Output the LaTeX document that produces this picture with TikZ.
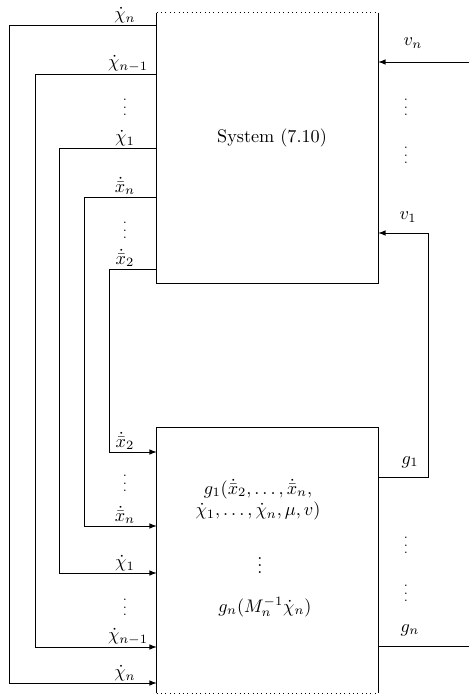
\documentclass[tikz,border=0pt]{standalone}
\usepackage{amsmath}
\begin{document}
\begin{tikzpicture}[x=0.55pt,y=-0.55pt,
    box/.style={rectangle,inner sep=0pt},
    lbl/.style={anchor=south,inner sep=1pt},
    vd/.style={inner sep=0pt,font=\scriptsize}]
    \useasboundingbox (0,0) rectangle (469,699);
    % the two blocks
    \node[box,minimum width=121.5pt,minimum height=148.5pt] (sys) at (267.5,148) {};
    \node[box,minimum width=121.5pt,minimum height=145.8pt] (ctl) at (267.5,560.5) {};
    \draw (sys.north east) -- (sys.south east) -- (sys.south west) -- (sys.north west);
    \draw[dotted] (sys.north west) -- (sys.north east);
    \draw (ctl.south west) -- (ctl.north west) -- (ctl.north east) -- (ctl.south east);
    \draw[dotted] (ctl.south west) -- (ctl.south east);
    \node (systxt) at (272,138) {System (7.10)};
    \node[align=center] (g1txt) at (258,500) {$g_1(\dot{\bar{x}}_2,\dots,\dot{\bar{x}}_n,$\\[0pt]$\dot{\chi}_1,\dots,\dot{\chi}_n,\mu,v)$};
    \node (gdots) at (260,560) {$\vdots$};
    \node (gntxt) at (265,607) {$g_n(M_n^{-1}\dot{\chi}_n)$};
    % feedback lines on the left
    \foreach \ya/\yb/\xl in {25/683/9, 74/647/35, 148/573/59, 197/526/84, 269/452/109}
        \draw[-latex] (sys.west |- 0,\ya) -| (\xl,\yb) -- (ctl.west |- 0,\yb);
    \node[lbl] (la) at (125,25) {$\dot{\chi}_n$};
    \node[lbl] (lb) at (128,74) {$\dot{\chi}_{n-1}$};
    \node[lbl] (lc) at (125,148) {$\dot{\chi}_1$};
    \node[lbl] (ld) at (125,197) {$\dot{\bar{x}}_n$};
    \node[lbl] (le) at (125,269) {$\dot{\bar{x}}_2$};
    \node[lbl] (lf) at (125,452) {$\dot{\bar{x}}_2$};
    \node[lbl] (lg) at (125,526) {$\dot{\bar{x}}_n$};
    \node[lbl] (lh) at (125,573) {$\dot{\chi}_1$};
    \node[lbl] (li) at (128,647) {$\dot{\chi}_{n-1}$};
    \node[lbl] (lj) at (125,683) {$\dot{\chi}_n$};
    \foreach \y in {102,225,478,602}
        \node[vd] at (125,\y) {$\vdots$};
    % inputs and outputs on the right
    \coordinate (vin) at (469,62);
    \coordinate (gout) at (469,646);
    \coordinate (bend) at (428,233);
    \draw[-latex] (vin) -- (sys.east |- vin);
    \draw[-latex] (ctl.east |- 0,477) -| (bend) -- (sys.east |- bend);
    \draw (ctl.east |- gout) -- (gout);
    \node (vn) at (413,43) {$v_n$};
    \node (v1) at (408,217) {$v_1$};
    \node (g1) at (410,462) {$g_1$};
    \node (gn) at (410,630) {$g_n$};
    \foreach \y in {102,150,540,588}
        \node[vd] at (406,\y) {$\vdots$};
\end{tikzpicture}
\end{document}
